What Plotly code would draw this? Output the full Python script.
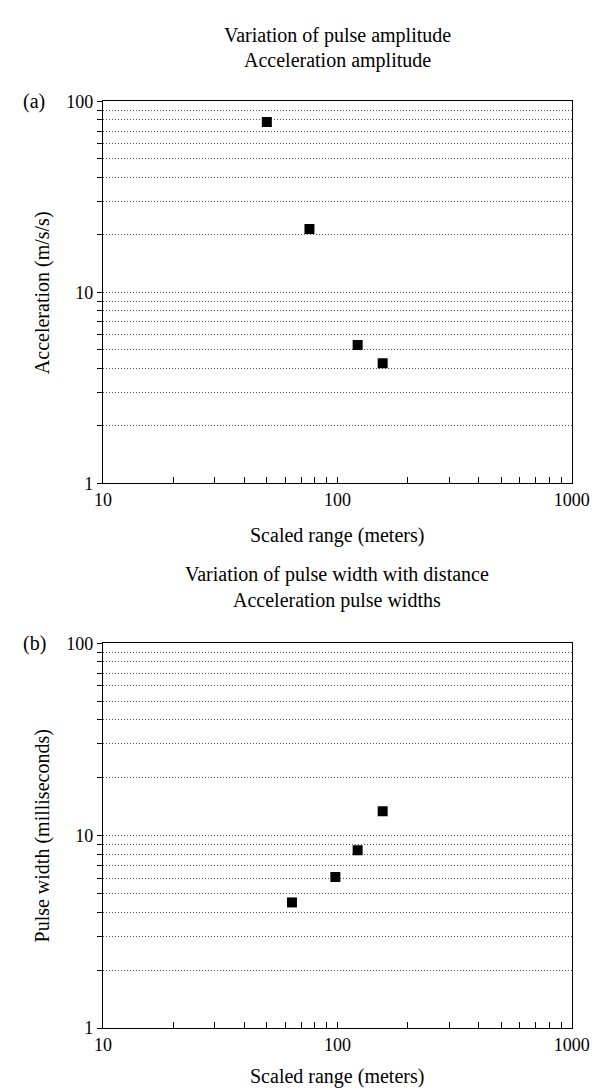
import plotly.graph_objects as go

# Panel (a): acceleration amplitude
range_a = [50, 76, 122, 156]
accel = [78, 21.5, 5.3, 4.25]

# Panel (b): pulse widths
range_b = [64, 98, 122, 156]
width_ms = [4.5, 6.1, 8.4, 13.4]

x_major = [10, 100, 1000]
x_major_text = ["10", "100", "1000"]
x_minor = [20, 30, 40, 50, 60, 70, 80, 90, 200, 300, 400, 500, 600, 700, 800, 900]
y_major = [1, 10, 100]
y_major_text = ["1", "10", "100"]
y_minor = [2, 3, 4, 5, 6, 7, 8, 9, 20, 30, 40, 50, 60, 70, 80, 90]

W, H = 600, 1089
FONT = "Liberation Serif"

def py(px):
    return 1 - px / H

xl, xr = 90 / W, 581 / W
a_top, a_bot = 85, 474
b_top, b_bot = 637, 1029

fig = go.Figure()
fig.add_trace(go.Scatter(x=range_a, y=accel, mode="markers",
                         marker=dict(symbol="square", size=10, color="black"),
                         xaxis="x", yaxis="y", showlegend=False))
fig.add_trace(go.Scatter(x=range_b, y=width_ms, mode="markers",
                         marker=dict(symbol="square", size=10, color="black"),
                         xaxis="x2", yaxis="y2", showlegend=False))

GRID = "#555"
DASH = "1px,2px"

def xaxis(anchor):
    return dict(type="log", range=[1, 3], domain=[xl, xr], anchor=anchor,
                tickmode="array", tickvals=x_major, ticktext=x_major_text,
                ticks="inside", ticklen=6, tickcolor="black",
                showline=True, linecolor="black", linewidth=1.4, mirror=True,
                showgrid=False, zeroline=False,
                tickfont=dict(family=FONT, size=18, color="black"),
                minor=dict(tickmode="array", tickvals=x_minor, ticks="inside",
                           ticklen=6, tickcolor="black", showgrid=False))

def yaxis(anchor, dom):
    return dict(type="log", range=[0, 2], domain=dom, anchor=anchor,
                tickmode="array", tickvals=y_major, ticktext=y_major_text,
                ticks="outside", ticklen=5, tickcolor="black",
                showline=True, linecolor="black", linewidth=1.4, mirror=True,
                showgrid=True, gridcolor=GRID, griddash=DASH, gridwidth=1,
                zeroline=False,
                tickfont=dict(family=FONT, size=18, color="black"),
                minor=dict(tickmode="array", tickvals=y_minor, ticks="outside",
                           ticklen=5, tickcolor="black", showgrid=True,
                           gridcolor=GRID, griddash=DASH, gridwidth=1))

fig.update_layout(
    width=W, height=H,
    margin=dict(l=0, r=0, t=0, b=0),
    paper_bgcolor="white", plot_bgcolor="white",
    xaxis=xaxis("y"),
    yaxis=yaxis("x", [py(a_bot), py(a_top)]),
    xaxis2=xaxis("y2"),
    yaxis2=yaxis("x2", [py(b_bot), py(b_top)]),
)

cx = (xl + xr) / 2
anns = [
    ("Variation of pulse amplitude", cx, 18),
    ("Acceleration amplitude", cx, 43),
    ("Scaled range (meters)", cx, 527),
    ("Variation of pulse width with distance", cx, 567),
    ("Acceleration pulse widths", cx, 593),
    ("Scaled range (meters)", cx, 1078),
    ("(a)", 18 / W, a_top),
    ("(b)", 18 / W, b_top),
]
for text, x, y in anns:
    fig.add_annotation(text=text, x=x, y=py(y), xref="paper", yref="paper",
                       showarrow=False, xanchor="center", yanchor="middle",
                       font=dict(family=FONT, size=20, color="black"))

# rotated y-axis titles
for text, y in [("Acceleration (m/s/s)", (a_top + a_bot) / 2),
                ("Pulse width (milliseconds)", (b_top + b_bot) / 2)]:
    fig.add_annotation(text=text, x=27 / W, y=py(y), xref="paper", yref="paper",
                       showarrow=False, xanchor="center", yanchor="middle",
                       textangle=-90,
                       font=dict(family=FONT, size=20, color="black"))

fig.write_html("out.html")
